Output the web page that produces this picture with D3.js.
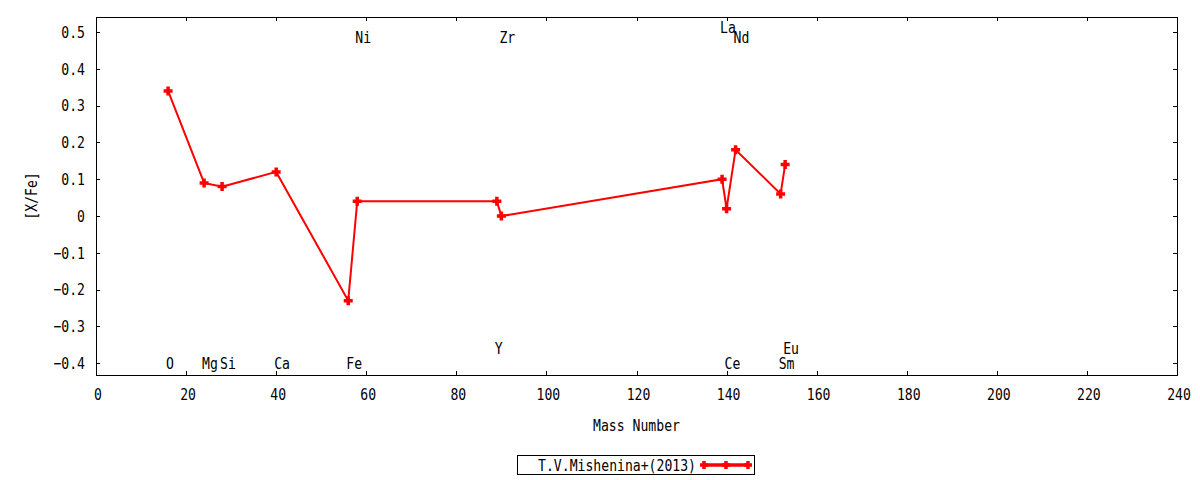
<!DOCTYPE html>
<html>
<head>
<meta charset="utf-8">
<script src="https://cdn.jsdelivr.net/npm/d3@7"></script>
<style>
  body { margin: 0; background: #fff; }
  text { font-family: "DejaVu Sans Mono", monospace; font-size: 16px; fill: #000; }
</style>
</head>
<body>
<svg width="1200" height="480"></svg>
<script>
// abundance ratios by mass number
var elements = ["O", "Mg", "Si", "Ca", "Fe", "Ni", "Y", "Zr", "La", "Ce", "Nd", "Sm", "Eu"];
var massNumber = [16, 24, 28, 40, 56, 58, 89, 90, 139, 140, 142, 152, 153];
var xFe = [0.34, 0.09, 0.08, 0.12, -0.23, 0.04, 0.04, 0.00, 0.10, 0.02, 0.18, 0.06, 0.14];
// where each element name sits (data units on the y axis)
var labelY = [-0.40, -0.40, -0.40, -0.40, -0.40, 0.485, -0.36, 0.485, 0.513, -0.40, 0.485, -0.40, -0.36];

var xTicks = d3.range(0, 241, 20);
var yTicks = [-0.4, -0.3, -0.2, -0.1, 0, 0.1, 0.2, 0.3, 0.4, 0.5];
var seriesName = "T.V.Mishenina+(2013)";

var svg = d3.select("svg"),
    margin = {top: 17, right: 23, bottom: 105, left: 96},
    width = +svg.attr("width") - margin.left - margin.right,
    height = +svg.attr("height") - margin.top - margin.bottom;

var x = d3.scaleLinear().domain([0, 240]).range([margin.left, margin.left + width]);
var y = d3.scaleLinear().domain([-0.432, 0.541]).range([margin.top + height, margin.top]);

var sx = 0.82; // squeeze the mono font a bit, like the gnuplot one

function label(g, tx, ty, str, anchor, rot) {
  return g.append("text")
    .attr("transform", "translate(" + tx + "," + ty + ")" + (rot ? " rotate(" + rot + ")" : "") + " scale(" + sx + ",1)")
    .attr("text-anchor", anchor || "middle")
    .attr("dy", "0.36em")
    .text(str);
}

var red = "#ff0000";

function plus(g, px, py, r, w) {
  g.append("path")
    .attr("d", "M" + (px - r) + "," + py + "H" + (px + r) + "M" + px + "," + (py - r) + "V" + (py + r))
    .attr("stroke", red)
    .attr("stroke-width", w)
    .attr("fill", "none");
}

// ticks, inward and mirrored
var axes = svg.append("g").attr("stroke", "#000").attr("stroke-width", 1);
xTicks.forEach(function(t) {
  var px = Math.round(x(t)) + 0.5;
  axes.append("line").attr("x1", px).attr("x2", px).attr("y1", y.range()[0]).attr("y2", y.range()[0] - 4);
  axes.append("line").attr("x1", px).attr("x2", px).attr("y1", y.range()[1]).attr("y2", y.range()[1] + 4);
});
yTicks.forEach(function(t) {
  var py = Math.round(y(t)) + 0.5;
  axes.append("line").attr("x1", x.range()[0]).attr("x2", x.range()[0] + 4).attr("y1", py).attr("y2", py);
  axes.append("line").attr("x1", x.range()[1]).attr("x2", x.range()[1] - 4).attr("y1", py).attr("y2", py);
});

svg.append("rect")
  .attr("x", x.range()[0] + 0.5)
  .attr("y", y.range()[1] + 0.5)
  .attr("width", width)
  .attr("height", height)
  .attr("fill", "none")
  .attr("stroke", "#000")
  .attr("stroke-width", 1);

var txt = svg.append("g");
xTicks.forEach(function(t) { label(txt, x(t) + 2, 394, String(t)); });
yTicks.forEach(function(t) { label(txt, 85, y(t), d3.format("")(+t.toFixed(1)), "end"); });

label(txt, x(120), 425, "Mass Number");
label(txt, 31, (y.range()[0] + y.range()[1]) / 2, "[X/Fe]", "middle", -90);

// element names
elements.forEach(function(el, i) {
  label(txt, x(massNumber[i]) - 2, y(labelY[i]), el, "start");
});

// the series
var pts = massNumber.map(function(m, i) { return [x(m), y(xFe[i])]; });
var plot = svg.append("g");
plot.append("path")
  .attr("d", d3.line()(pts))
  .attr("fill", "none")
  .attr("stroke", red)
  .attr("stroke-width", 2);
pts.forEach(function(p) { plus(plot, p[0], p[1], 4.5, 3.5); });

// legend
var leg = svg.append("g");
leg.append("rect")
  .attr("x", 517.5).attr("y", 455.5)
  .attr("width", 237).attr("height", 19)
  .attr("fill", "none").attr("stroke", "#000");
label(leg, 696, 465, seriesName, "end");
leg.append("line")
  .attr("x1", 704).attr("x2", 748).attr("y1", 465).attr("y2", 465)
  .attr("stroke", red).attr("stroke-width", 3.5);
[704, 726, 748].forEach(function(px) { plus(leg, px, 465, 4, 3.5); });
</script>
</body>
</html>
